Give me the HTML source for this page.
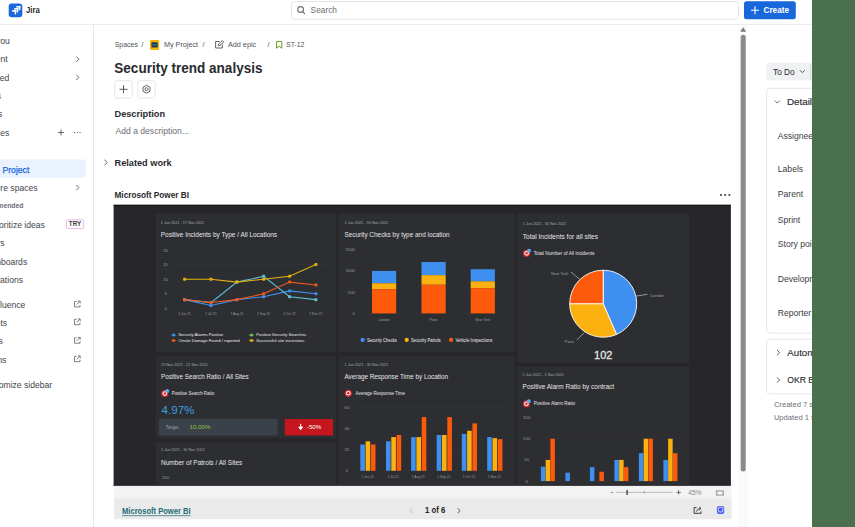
<!DOCTYPE html>
<html><head><meta charset="utf-8"><style>
html,body{margin:0;padding:0;background:#fff;width:855px;height:527px;overflow:hidden}
svg{display:block;font-family:"Liberation Sans", sans-serif}
</style></head><body>
<svg width="855" height="527" viewBox="0 0 855 527">
<rect x="0" y="24" width="812" height="1" fill="#ebecee"/>
<rect x="8.7" y="3.5" width="13.6" height="13.8" fill="#1868db" rx="3"/>
<g fill="none" stroke="#fff" stroke-width="1.5" stroke-linejoin="miter" stroke-linecap="butt"><path d="M16.2 6.9 L19.9 6.5 L19.5 10.2"/><path d="M14.1 9.0 L17.8 8.6 L17.4 12.3"/><path d="M12.0 11.1 L15.7 10.7 L15.3 14.4"/></g>
<text x="26" y="13.3" font-size="9" fill="#292a2e" font-weight="700" textLength="13.8" lengthAdjust="spacingAndGlyphs">Jira</text>
<rect x="291.5" y="1.5" width="447" height="17.8" fill="#ffffff" rx="3" stroke="#e2e4e8" stroke-width="1"/>
<circle cx="300.6" cy="9.5" r="2.9" fill="none" stroke="#6b6e76" stroke-width="1.1"/>
<path d="M302.7 11.6 L304.7 13.6" stroke="#6b6e76" stroke-width="1.1" stroke-linecap="round"/>
<text x="310.6" y="13.2" font-size="8.2" fill="#6b6e76" textLength="26.4" lengthAdjust="spacingAndGlyphs">Search</text>
<rect x="744" y="1.2" width="51.8" height="18.1" fill="#1868db" rx="2.5"/>
<path d="M755 6.2 V14.2 M751 10.2 H759" stroke="#fff" stroke-width="1.1"/>
<text x="763.5" y="13.4" font-size="8.5" fill="#ffffff" font-weight="700" textLength="25.5" lengthAdjust="spacingAndGlyphs">Create</text>
<rect x="812" y="0" width="43" height="527" fill="#4a704d"/>
<rect x="93" y="25" width="1" height="502" fill="#e6e7ea"/>
<text x="9.8" y="44.1" font-size="8.6" fill="#44464c" text-anchor="end">For you</text>
<text x="7.7" y="62.3" font-size="8.6" fill="#44464c" text-anchor="end">Recent</text>
<text x="9.4" y="80.5" font-size="8.6" fill="#44464c" text-anchor="end">Starred</text>
<text x="1.0" y="98.7" font-size="8.6" fill="#44464c" text-anchor="end">Apps</text>
<text x="2.3" y="116.9" font-size="8.6" fill="#44464c" text-anchor="end">Plans</text>
<text x="9.4" y="135.6" font-size="8.6" fill="#44464c" text-anchor="end">Spaces</text>
<path d="M76.3 56.6 L78.9 59.2 L76.3 61.800000000000004" fill="none" stroke="#505258" stroke-width="0.9"/>
<path d="M76.3 74.80000000000001 L78.9 77.4 L76.3 80.0" fill="none" stroke="#505258" stroke-width="0.9"/>
<path d="M76.3 185.0 L78.9 187.6 L76.3 190.2" fill="none" stroke="#505258" stroke-width="0.9"/>
<path d="M61 129.6 V135.4 M58.1 132.5 H63.9" stroke="#505258" stroke-width="0.9"/>
<circle cx="74.6" cy="132.6" r="0.6" fill="#505258"/>
<circle cx="77.3" cy="132.6" r="0.6" fill="#505258"/>
<circle cx="80" cy="132.6" r="0.6" fill="#505258"/>
<rect x="-4" y="159.6" width="90" height="18.2" fill="#e9f2fe" rx="3"/>
<text x="2.5" y="172.5" font-size="8.6" fill="#1868db" textLength="26.8" lengthAdjust="spacingAndGlyphs" stroke="#1868db" stroke-width="0.25">Project</text>
<text x="37.6" y="190.7" font-size="8.6" fill="#44464c" text-anchor="end">More spaces</text>
<text x="23.4" y="207.8" font-size="6.8" fill="#6b6e76" font-weight="700" text-anchor="end">Recommended</text>
<text x="44.9" y="227.5" font-size="8.6" fill="#44464c" text-anchor="end">Prioritize ideas</text>
<rect x="66.3" y="219.8" width="17.4" height="8.8" fill="#ffffff" rx="1.5" stroke="#e8a4dc" stroke-width="0.8"/>
<text x="75" y="226.3" font-size="6.3" fill="#3b3d42" font-weight="700" text-anchor="middle">TRY</text>
<text x="4.6" y="246.1" font-size="8.6" fill="#44464c" text-anchor="end">Filters</text>
<text x="27.2" y="264.5" font-size="8.6" fill="#44464c" text-anchor="end">Dashboards</text>
<text x="23" y="282.6" font-size="8.6" fill="#44464c" text-anchor="end">Operations</text>
<text x="25.4" y="308.0" font-size="8.6" fill="#44464c" text-anchor="end">Confluence</text>
<g fill="none" stroke="#5d6068" stroke-width="0.8"><path d="M76.6 301.5 H74.5 V306.9 H80 V304.9"/><path d="M76.6 304.59999999999997 L79.8 301.4 M77.8 301.09999999999997 H80.2 V303.5"/></g>
<text x="7.1" y="325.8" font-size="8.6" fill="#44464c" text-anchor="end">Assets</text>
<g fill="none" stroke="#5d6068" stroke-width="0.8"><path d="M76.6 319.3 H74.5 V324.7 H80 V322.7"/><path d="M76.6 322.4 L79.8 319.2 M77.8 318.9 H80.2 V321.3"/></g>
<text x="2.8" y="344.3" font-size="8.6" fill="#44464c" text-anchor="end">Goals</text>
<g fill="none" stroke="#5d6068" stroke-width="0.8"><path d="M76.6 337.8 H74.5 V343.2 H80 V341.2"/><path d="M76.6 340.9 L79.8 337.7 M77.8 337.4 H80.2 V339.8"/></g>
<text x="6.4" y="362.8" font-size="8.6" fill="#44464c" text-anchor="end">Teams</text>
<g fill="none" stroke="#5d6068" stroke-width="0.8"><path d="M76.6 356.3 H74.5 V361.7 H80 V359.7"/><path d="M76.6 359.4 L79.8 356.2 M77.8 355.9 H80.2 V358.3"/></g>
<text x="52.2" y="388.1" font-size="8.6" fill="#44464c" text-anchor="end">Customize sidebar</text>
<text x="114.7" y="47.3" font-size="7" fill="#505258" textLength="23.3" lengthAdjust="spacingAndGlyphs">Spaces</text>
<text x="141.6" y="47.3" font-size="7" fill="#505258">/</text>
<rect x="150" y="39.9" width="9.1" height="10" fill="#f5b400" rx="1"/>
<rect x="151.4" y="42.2" width="6.3" height="5.4" fill="#1d3a5c" rx="0.8"/>
<rect x="152.2" y="44.6" width="4.7" height="0.7" fill="#5a8fd0"/>
<text x="164" y="47.3" font-size="7" fill="#505258" textLength="34" lengthAdjust="spacingAndGlyphs">My Project</text>
<text x="202.4" y="47.3" font-size="7" fill="#505258">/</text>
<g fill="none" stroke="#505258" stroke-width="0.9"><path d="M219.5 41.5 H215.6 V48 H222.3 V44.5"/><path d="M218.3 45.6 L218.6 44 L222.3 40.6 L223.7 42 L220 45.4 Z"/></g>
<text x="227.9" y="47.3" font-size="7" fill="#505258" textLength="28.3" lengthAdjust="spacingAndGlyphs">Add epic</text>
<text x="267.4" y="47.3" font-size="7" fill="#505258">/</text>
<path d="M276.6 41.4 H281.8 V48.3 L279.2 46 L276.6 48.3 Z" fill="none" stroke="#6a9a23" stroke-width="1"/>
<text x="286.3" y="47.3" font-size="7" fill="#505258" textLength="18.1" lengthAdjust="spacingAndGlyphs">ST-12</text>
<text x="114.3" y="72.5" font-size="14" fill="#292a2e" font-weight="700" textLength="148.2" lengthAdjust="spacingAndGlyphs">Security trend analysis</text>
<rect x="114.8" y="80.6" width="17.4" height="17.4" fill="#ffffff" rx="2" stroke="#dfe1e5" stroke-width="0.8"/>
<path d="M123.5 85.3 V93.3 M119.5 89.3 H127.5" stroke="#44464c" stroke-width="0.9"/>
<rect x="137.8" y="80.6" width="17.4" height="17.4" fill="#ffffff" rx="2" stroke="#dfe1e5" stroke-width="0.8"/>
<g fill="none" stroke="#505258" stroke-width="0.9"><path d="M146.5 85.2 L150 87.2 V91.2 L146.5 93.2 L143 91.2 V87.2 Z"/><circle cx="146.5" cy="89.2" r="1.5"/></g>
<text x="114.5" y="117" font-size="9.6" fill="#292a2e" font-weight="700" textLength="50.6" lengthAdjust="spacingAndGlyphs">Description</text>
<text x="115.5" y="133.8" font-size="8.6" fill="#6b6e76" textLength="73.5" lengthAdjust="spacingAndGlyphs">Add a description...</text>
<path d="M104.3 159.6 L107.2 162.5 L104.3 165.4" fill="none" stroke="#505258" stroke-width="0.9"/>
<text x="114.5" y="166.1" font-size="9.6" fill="#292a2e" font-weight="700" textLength="57.2" lengthAdjust="spacingAndGlyphs">Related work</text>
<text x="114.5" y="198.2" font-size="8.8" fill="#292a2e" font-weight="700" textLength="74.5" lengthAdjust="spacingAndGlyphs">Microsoft Power BI</text>
<rect x="720.1" y="194.1" width="1.8" height="1.8" fill="#44464c"/>
<rect x="724.3000000000001" y="194.1" width="1.8" height="1.8" fill="#44464c"/>
<rect x="728.5" y="194.1" width="1.8" height="1.8" fill="#44464c"/>
<rect x="738.5" y="25" width="9" height="502" fill="#fafafa"/>
<path d="M740.2 31.8 L743.1 27.2 L746.1 31.8 Z" fill="#7a7a7a"/>
<rect x="740.7" y="34.8" width="5" height="436.6" fill="#8a8a8a" rx="2.5"/>
<rect x="766.1" y="62.7" width="60" height="17.9" fill="#f0f1f2" rx="2.5"/>
<text x="773" y="74.6" font-size="8.3" fill="#292a2e">To Do</text>
<path d="M799.9 70.2 L802.3 72.6 L804.7 70.2" fill="none" stroke="#44464c" stroke-width="0.9"/>
<path d="M810.5 64 V80" stroke="#b8b9bd" stroke-width="0.8" stroke-dasharray="1 1"/>
<rect x="766.6" y="88.3" width="70" height="244.9" rx="4" fill="none" stroke="#e6e7ea" stroke-width="1"/>
<path d="M774.8 100.6 L777.3 103.1 L779.8 100.6" fill="none" stroke="#505258" stroke-width="0.9"/>
<text x="787" y="105.2" font-size="9.8" fill="#292a2e" stroke="#292a2e" stroke-width="0.15">Details</text>
<text x="777.8" y="139.4" font-size="8.6" fill="#3b3d42">Assignee</text>
<text x="777.8" y="171.7" font-size="8.6" fill="#3b3d42">Labels</text>
<text x="777.8" y="196.9" font-size="8.6" fill="#3b3d42">Parent</text>
<text x="777.8" y="222.6" font-size="8.6" fill="#3b3d42">Sprint</text>
<text x="777.8" y="247.4" font-size="8.6" fill="#3b3d42">Story points</text>
<text x="777.8" y="281.9" font-size="8.6" fill="#3b3d42">Development</text>
<text x="777.8" y="316.1" font-size="8.6" fill="#3b3d42">Reporter</text>
<rect x="766.6" y="339.2" width="70" height="54.6" rx="4" fill="none" stroke="#e6e7ea" stroke-width="1"/>
<path d="M777 350.0 L779.6 352.6 L777 355.20000000000005" fill="none" stroke="#505258" stroke-width="0.9"/>
<text x="787.3" y="356.0" font-size="9.7" fill="#292a2e" stroke="#292a2e" stroke-width="0.12">Automation</text>
<path d="M777 377.4 L779.6 380 L777 382.6" fill="none" stroke="#505258" stroke-width="0.9"/>
<text x="787.3" y="383.4" font-size="8.6" fill="#292a2e" stroke="#292a2e" stroke-width="0.12">OKR Board</text>
<text x="773.9" y="407.4" font-size="7.6" fill="#6b6e76">Created 7 seconds ago</text>
<text x="773.9" y="419.9" font-size="7.6" fill="#6b6e76">Updated 1 second ago</text>
<rect x="812" y="0" width="43" height="527" fill="#4a704d"/>
<rect x="113.6" y="204.8" width="617.3" height="281" fill="#27262b"/>
<rect x="113.6" y="204.8" width="617.3" height="0.9" fill="#111113"/>
<rect x="156" y="214" width="180.10000000000002" height="138.3" fill="#2d2e32"/>
<rect x="338.5" y="214" width="176.0" height="138.3" fill="#2d2e32"/>
<rect x="517" y="214" width="172" height="148.8" fill="#2d2e32"/>
<rect x="155.6" y="356" width="180.50000000000003" height="82" fill="#2d2e32"/>
<rect x="339" y="355.6" width="175.5" height="130.2" fill="#2d2e32"/>
<rect x="517" y="366.1" width="172" height="119.69999999999999" fill="#2d2e32"/>
<rect x="155.8" y="442" width="180.3" height="43.80000000000001" fill="#2d2e32"/>
<text x="160.8" y="223.5" font-size="4.3" fill="#a5abb3" textLength="43.2" lengthAdjust="spacingAndGlyphs">1 Jun 2021 - 17 Nov 2021</text>
<text x="160.8" y="237.05" font-size="7" fill="#e6e6e6" textLength="116.3" lengthAdjust="spacingAndGlyphs">Positive Incidents by Type / All Locations</text>
<text x="165.6" y="309.9" font-size="4.3" fill="#9c9fa4" text-anchor="middle">0</text>
<rect x="172" y="308.15" width="158" height="0.5" fill="#36373b"/>
<text x="165.6" y="295.3" font-size="4.3" fill="#9c9fa4" text-anchor="middle">5</text>
<rect x="172" y="293.54999999999995" width="158" height="0.5" fill="#36373b"/>
<text x="165.6" y="280.7" font-size="4.3" fill="#9c9fa4" text-anchor="middle">10</text>
<rect x="172" y="278.95" width="158" height="0.5" fill="#36373b"/>
<text x="165.6" y="266.11" font-size="4.3" fill="#9c9fa4" text-anchor="middle">15</text>
<rect x="172" y="264.35" width="158" height="0.5" fill="#36373b"/>
<text x="165.6" y="251.5" font-size="4.3" fill="#9c9fa4" text-anchor="middle">20</text>
<rect x="172" y="249.75" width="158" height="0.5" fill="#36373b"/>
<text x="184.6" y="315.13" font-size="4.1" fill="#9c9fa4" text-anchor="middle" textLength="12.7" lengthAdjust="spacingAndGlyphs">1 Jun 21</text>
<text x="211" y="315.13" font-size="4.1" fill="#9c9fa4" text-anchor="middle" textLength="11.6" lengthAdjust="spacingAndGlyphs">1 Jul 21</text>
<text x="236.9" y="315.13" font-size="4.1" fill="#9c9fa4" text-anchor="middle" textLength="13.0" lengthAdjust="spacingAndGlyphs">1 Aug 21</text>
<text x="263.6" y="315.13" font-size="4.1" fill="#9c9fa4" text-anchor="middle" textLength="13.2" lengthAdjust="spacingAndGlyphs">1 Sep 21</text>
<text x="289.6" y="315.13" font-size="4.1" fill="#9c9fa4" text-anchor="middle" textLength="12.5" lengthAdjust="spacingAndGlyphs">1 Oct 21</text>
<text x="315.9" y="315.13" font-size="4.1" fill="#9c9fa4" text-anchor="middle" textLength="13.2" lengthAdjust="spacingAndGlyphs">1 Nov 21</text>
<polyline points="184.6,299.64 211,305.48 236.9,299.64 263.6,296.72 289.6,290.88 315.9,293.80" fill="none" stroke="#3f8ff0" stroke-width="1.1"/>
<rect x="183.1" y="298.14" width="3" height="3" fill="#3f8ff0" rx="0.8"/>
<rect x="209.5" y="303.98" width="3" height="3" fill="#3f8ff0" rx="0.8"/>
<rect x="235.4" y="298.14" width="3" height="3" fill="#3f8ff0" rx="0.8"/>
<rect x="262.1" y="295.22" width="3" height="3" fill="#3f8ff0" rx="0.8"/>
<rect x="288.1" y="289.38" width="3" height="3" fill="#3f8ff0" rx="0.8"/>
<rect x="314.4" y="292.3" width="3" height="3" fill="#3f8ff0" rx="0.8"/>
<polyline points="184.6,299.64 211,302.56 236.9,282.12 263.6,276.28 289.6,296.72 315.9,299.64" fill="none" stroke="#5fc0d8" stroke-width="1.1"/>
<rect x="183.1" y="298.14" width="3" height="3" fill="#5fc0d8" rx="0.8"/>
<rect x="209.5" y="301.06" width="3" height="3" fill="#5fc0d8" rx="0.8"/>
<rect x="235.4" y="280.62" width="3" height="3" fill="#5fc0d8" rx="0.8"/>
<rect x="262.1" y="274.78" width="3" height="3" fill="#5fc0d8" rx="0.8"/>
<rect x="288.1" y="295.22" width="3" height="3" fill="#5fc0d8" rx="0.8"/>
<rect x="314.4" y="298.14" width="3" height="3" fill="#5fc0d8" rx="0.8"/>
<polyline points="184.6,299.64 211,302.56 236.9,299.64 263.6,293.80 289.6,282.12 315.9,285.04" fill="none" stroke="#f0581c" stroke-width="1.1"/>
<rect x="183.1" y="298.14" width="3" height="3" fill="#f0581c" rx="0.8"/>
<rect x="209.5" y="301.06" width="3" height="3" fill="#f0581c" rx="0.8"/>
<rect x="235.4" y="298.14" width="3" height="3" fill="#f0581c" rx="0.8"/>
<rect x="262.1" y="292.3" width="3" height="3" fill="#f0581c" rx="0.8"/>
<rect x="288.1" y="280.62" width="3" height="3" fill="#f0581c" rx="0.8"/>
<rect x="314.4" y="283.54" width="3" height="3" fill="#f0581c" rx="0.8"/>
<polyline points="184.6,279.20 211,279.20 236.9,282.12 263.6,279.20 289.6,276.28 315.9,264.60" fill="none" stroke="#e3b00e" stroke-width="1.1"/>
<rect x="183.1" y="277.7" width="3" height="3" fill="#e3b00e" rx="0.8"/>
<rect x="209.5" y="277.7" width="3" height="3" fill="#e3b00e" rx="0.8"/>
<rect x="235.4" y="280.62" width="3" height="3" fill="#e3b00e" rx="0.8"/>
<rect x="262.1" y="277.7" width="3" height="3" fill="#e3b00e" rx="0.8"/>
<rect x="288.1" y="274.78" width="3" height="3" fill="#e3b00e" rx="0.8"/>
<rect x="314.4" y="263.1" width="3" height="3" fill="#e3b00e" rx="0.8"/>
<circle cx="173.6" cy="335" r="1.5" fill="#3f8ff0"/>
<path d="M171.1 335 H176.1" stroke="#3f8ff0" stroke-width="0.8"/>
<text x="178.4" y="336.47" font-size="4.2" fill="#eeeeee">Security Alarms Positive</text>
<circle cx="251.5" cy="335" r="1.5" fill="#6cc04a"/>
<path d="M249.0 335 H254.0" stroke="#6cc04a" stroke-width="0.8"/>
<text x="256.3" y="336.47" font-size="4.2" fill="#eeeeee">Positive Security Searches</text>
<circle cx="173.6" cy="340.4" r="1.5" fill="#f0581c"/>
<path d="M171.1 340.4 H176.1" stroke="#f0581c" stroke-width="0.8"/>
<text x="178.4" y="341.87" font-size="4.2" fill="#eeeeee">Onsite Damage Found / reported</text>
<circle cx="251.5" cy="340.4" r="1.5" fill="#e3b00e"/>
<path d="M249.0 340.4 H254.0" stroke="#e3b00e" stroke-width="0.8"/>
<text x="256.3" y="341.87" font-size="4.2" fill="#eeeeee">Successful site incursions</text>
<text x="344.4" y="223.6" font-size="4.3" fill="#a5abb3" textLength="43.8" lengthAdjust="spacingAndGlyphs">1 Jun 2021 - 30 Nov 2021</text>
<text x="344.4" y="237.05" font-size="7" fill="#e6e6e6" textLength="105.3" lengthAdjust="spacingAndGlyphs">Security Checks by type and location</text>
<text x="355" y="314.9" font-size="4.3" fill="#9c9fa4" text-anchor="end">0</text>
<rect x="362" y="313.15" width="144" height="0.5" fill="#36373b"/>
<text x="355" y="293.67" font-size="4.3" fill="#9c9fa4" text-anchor="end">500</text>
<rect x="362" y="291.91666666666663" width="144" height="0.5" fill="#36373b"/>
<text x="355" y="272.44" font-size="4.3" fill="#9c9fa4" text-anchor="end">1000</text>
<rect x="362" y="270.68333333333334" width="144" height="0.5" fill="#36373b"/>
<text x="355" y="251.2" font-size="4.3" fill="#9c9fa4" text-anchor="end">1500</text>
<rect x="362" y="249.45" width="144" height="0.5" fill="#36373b"/>
<rect x="372" y="270.93333333333334" width="24.2" height="12.315333333333285" fill="#3f8ff0"/>
<rect x="372" y="283.2486666666666" width="24.2" height="5.945333333333338" fill="#fbb10f"/>
<rect x="372" y="289.19399999999996" width="24.2" height="24.206000000000017" fill="#fd5a0c"/>
<text x="384.1" y="320.83" font-size="4.1" fill="#9c9fa4" text-anchor="middle" textLength="11.8" lengthAdjust="spacingAndGlyphs">London</text>
<rect x="421.5" y="262.01533333333333" width="24.2" height="13.164666666666676" fill="#3f8ff0"/>
<rect x="421.5" y="275.18" width="24.2" height="9.55499999999995" fill="#fbb10f"/>
<rect x="421.5" y="284.73499999999996" width="24.2" height="28.66500000000002" fill="#fd5a0c"/>
<text x="433.6" y="320.83" font-size="4.1" fill="#9c9fa4" text-anchor="middle" textLength="8.1" lengthAdjust="spacingAndGlyphs">Paris</text>
<rect x="470.7" y="269.23466666666667" width="24.2" height="12.103000000000009" fill="#3f8ff0"/>
<rect x="470.7" y="281.3376666666667" width="24.2" height="6.794666666666615" fill="#fbb10f"/>
<rect x="470.7" y="288.1323333333333" width="24.2" height="25.267666666666685" fill="#fd5a0c"/>
<text x="482.8" y="320.83" font-size="4.1" fill="#9c9fa4" text-anchor="middle" textLength="15.0" lengthAdjust="spacingAndGlyphs">New York</text>
<circle cx="362.6" cy="339.9" r="2.1" fill="#3f8ff0"/>
<text x="366.90000000000003" y="341.51" font-size="4.6" fill="#eeeeee" textLength="30" lengthAdjust="spacingAndGlyphs">Security Checks</text>
<circle cx="406.7" cy="339.9" r="2.1" fill="#fbb10f"/>
<text x="411.0" y="341.51" font-size="4.6" fill="#eeeeee" textLength="29.7" lengthAdjust="spacingAndGlyphs">Security Patrols</text>
<circle cx="451.1" cy="339.9" r="2.1" fill="#fd5a0c"/>
<text x="455.40000000000003" y="341.51" font-size="4.6" fill="#eeeeee" textLength="37" lengthAdjust="spacingAndGlyphs">Vehicle Inspections</text>
<text x="522.8" y="225.31" font-size="4.3" fill="#a5abb3" textLength="43.4" lengthAdjust="spacingAndGlyphs">1 Jun 2021 - 30 Nov 2021</text>
<text x="522.8" y="238.75" font-size="7" fill="#e6e6e6" textLength="75.2" lengthAdjust="spacingAndGlyphs">Total Incidents for all sites</text>
<g><circle cx="526.5999999999999" cy="253.3" r="3.6" fill="#d8262c"/><circle cx="526.5999999999999" cy="253.3" r="2.3" fill="#fff"/><circle cx="526.5999999999999" cy="253.3" r="1.3" fill="#d8262c"/><circle cx="529.0" cy="250.8" r="2" fill="#5aa8ea"/></g>
<text x="533.7" y="254.61" font-size="4.6" fill="#e6e6e6" textLength="60.7" lengthAdjust="spacingAndGlyphs">Total Number of All incidents</text>
<path d="M603.2 303.7 L603.20 270.20 A33.5 33.5 0 0 1 616.50 334.44 Z" fill="#3f8ff0" stroke="#ffffff" stroke-width="0.9"/>
<path d="M603.2 303.7 L616.50 334.44 A33.5 33.5 0 0 1 569.70 303.70 Z" fill="#fbb10f" stroke="#ffffff" stroke-width="0.9"/>
<path d="M603.2 303.7 L569.70 303.70 A33.5 33.5 0 0 1 603.20 270.20 Z" fill="#fd5a0c" stroke="#ffffff" stroke-width="0.9"/>
<path d="M570.7 271.8 L579.8 279.4" stroke="#c4c4c4" stroke-width="0.7"/>
<path d="M636 296.1 L647.3 294.3" stroke="#c4c4c4" stroke-width="0.7"/>
<path d="M576.8 340.1 L584.4 332.5" stroke="#c4c4c4" stroke-width="0.7"/>
<text x="551" y="274.74" font-size="4.1" fill="#9c9fa4">New York</text>
<text x="650.6" y="296.63" font-size="4.1" fill="#9c9fa4">London</text>
<text x="564.7" y="343.13" font-size="4.1" fill="#9c9fa4">Paris</text>
<text x="603.2" y="358.55" font-size="11" fill="#e6e6e6" text-anchor="middle" stroke="#e6e6e6" stroke-width="0.3">102</text>
<text x="161" y="365.9" font-size="4.3" fill="#a5abb3" textLength="47" lengthAdjust="spacingAndGlyphs">15 Nov 2021 - 21 Nov 2021</text>
<text x="161" y="378.95" font-size="7" fill="#e6e6e6" textLength="87.7" lengthAdjust="spacingAndGlyphs">Positive Search Ratio / All Sites</text>
<g><circle cx="164.8" cy="393.5" r="3.6" fill="#d8262c"/><circle cx="164.8" cy="393.5" r="2.3" fill="#fff"/><circle cx="164.8" cy="393.5" r="1.3" fill="#d8262c"/><circle cx="167.2" cy="391.0" r="2" fill="#5aa8ea"/></g>
<text x="171.8" y="394.81" font-size="4.6" fill="#e6e6e6" textLength="42.4" lengthAdjust="spacingAndGlyphs">Positive Search Ratio</text>
<text x="161.6" y="413.9" font-size="10.6" fill="#3a9ee4" textLength="32.8" lengthAdjust="spacingAndGlyphs">4.97%</text>
<rect x="158.9" y="418.7" width="118.7" height="16.8" fill="#3b4149"/>
<text x="165.8" y="428.71" font-size="4.6" fill="#9aa0a8">Target</text>
<text x="189.5" y="429.06" font-size="5.6" fill="#8cc63f" textLength="21" lengthAdjust="spacingAndGlyphs">10.00%</text>
<rect x="284.8" y="419" width="48.3" height="16.5" fill="#c4161c"/>
<path d="M300.7 423.8 V427.6 M298.8 427 L300.7 429.8 L302.6 427 Z" fill="#fff" stroke="#fff" stroke-width="1"/>
<text x="306.8" y="429.23" font-size="5.8" fill="#ffffff" textLength="14.6" lengthAdjust="spacingAndGlyphs">-50%</text>
<text x="344.5" y="365.7" font-size="4.3" fill="#a5abb3" textLength="43.8" lengthAdjust="spacingAndGlyphs">1 Jun 2021 - 30 Nov 2021</text>
<text x="344.5" y="378.95" font-size="7" fill="#e6e6e6" textLength="103.5" lengthAdjust="spacingAndGlyphs">Average Response Time by Location</text>
<g><circle cx="348.3" cy="393.3" r="3.6" fill="#d8262c"/><circle cx="348.3" cy="393.3" r="2.3" fill="#fff"/><circle cx="348.3" cy="393.3" r="1.3" fill="#d8262c"/></g>
<text x="355.5" y="394.81" font-size="4.6" fill="#e6e6e6" textLength="49.5" lengthAdjust="spacingAndGlyphs">Average Response Time</text>
<text x="347" y="472.31" font-size="4.3" fill="#9c9fa4" text-anchor="middle">0</text>
<rect x="355" y="470.55" width="152" height="0.5" fill="#36373b"/>
<text x="347" y="451.24" font-size="4.3" fill="#9c9fa4" text-anchor="middle">20</text>
<rect x="355" y="449.48333333333335" width="152" height="0.5" fill="#36373b"/>
<text x="347" y="430.17" font-size="4.3" fill="#9c9fa4" text-anchor="middle">40</text>
<rect x="355" y="428.4166666666667" width="152" height="0.5" fill="#36373b"/>
<text x="347" y="409.11" font-size="4.3" fill="#9c9fa4" text-anchor="middle">60</text>
<rect x="355" y="407.35" width="152" height="0.5" fill="#36373b"/>
<rect x="360.3" y="444.47" width="4.6" height="26.33" fill="#3f8ff0"/>
<rect x="365.6" y="441.31" width="4.6" height="29.49" fill="#fbb10f"/>
<rect x="370.9" y="444.47" width="4.6" height="26.33" fill="#fd5a0c"/>
<rect x="386.0" y="441.31" width="4.6" height="29.49" fill="#3f8ff0"/>
<rect x="391.3" y="437.09" width="4.6" height="33.71" fill="#fbb10f"/>
<rect x="396.6" y="434.99" width="4.6" height="35.81" fill="#fd5a0c"/>
<rect x="411.1" y="437.09" width="4.6" height="33.71" fill="#3f8ff0"/>
<rect x="416.4" y="437.09" width="4.6" height="33.71" fill="#fbb10f"/>
<rect x="421.7" y="417.08" width="4.6" height="53.72" fill="#fd5a0c"/>
<rect x="436.7" y="434.99" width="4.6" height="35.81" fill="#3f8ff0"/>
<rect x="442.0" y="434.99" width="4.6" height="35.81" fill="#fbb10f"/>
<rect x="447.3" y="417.08" width="4.6" height="53.72" fill="#fd5a0c"/>
<rect x="461.8" y="433.93" width="4.6" height="36.87" fill="#3f8ff0"/>
<rect x="467.1" y="430.77" width="4.6" height="40.03" fill="#fbb10f"/>
<rect x="472.4" y="423.4" width="4.6" height="47.4" fill="#fd5a0c"/>
<rect x="487.2" y="437.09" width="4.6" height="33.71" fill="#3f8ff0"/>
<rect x="492.5" y="438.15" width="4.6" height="32.65" fill="#fbb10f"/>
<rect x="497.8" y="439.2" width="4.6" height="31.6" fill="#fd5a0c"/>
<text x="367.5" y="477.83" font-size="4.1" fill="#9c9fa4" text-anchor="middle" textLength="12.7" lengthAdjust="spacingAndGlyphs">1 Jun 21</text>
<text x="393.2" y="477.83" font-size="4.1" fill="#9c9fa4" text-anchor="middle" textLength="11.6" lengthAdjust="spacingAndGlyphs">1 Jul 21</text>
<text x="418.3" y="477.83" font-size="4.1" fill="#9c9fa4" text-anchor="middle" textLength="13.0" lengthAdjust="spacingAndGlyphs">1 Aug 21</text>
<text x="443.9" y="477.83" font-size="4.1" fill="#9c9fa4" text-anchor="middle" textLength="13.2" lengthAdjust="spacingAndGlyphs">1 Sep 21</text>
<text x="469" y="477.83" font-size="4.1" fill="#9c9fa4" text-anchor="middle" textLength="12.5" lengthAdjust="spacingAndGlyphs">1 Oct 21</text>
<text x="494.4" y="477.83" font-size="4.1" fill="#9c9fa4" text-anchor="middle" textLength="13.2" lengthAdjust="spacingAndGlyphs">1 Nov 21</text>
<text x="522.6" y="375.81" font-size="4.3" fill="#a5abb3" textLength="41.2" lengthAdjust="spacingAndGlyphs">1 Jun 2021 - 1 Nov 2021</text>
<text x="522.6" y="389.35" font-size="7" fill="#e6e6e6" textLength="91.5" lengthAdjust="spacingAndGlyphs">Positive Alarm Ratio by contract</text>
<g><circle cx="526.4" cy="403.8" r="3.6" fill="#d8262c"/><circle cx="526.4" cy="403.8" r="2.3" fill="#fff"/><circle cx="526.4" cy="403.8" r="1.3" fill="#d8262c"/><circle cx="528.8000000000001" cy="401.3" r="2" fill="#5aa8ea"/></g>
<text x="533.7" y="404.91" font-size="4.6" fill="#e6e6e6" textLength="41.4" lengthAdjust="spacingAndGlyphs">Positive Alarm Ratio</text>
<text x="526.7" y="482.61" font-size="4.3" fill="#9c9fa4" text-anchor="middle">0</text>
<rect x="535" y="480.85" width="150" height="0.5" fill="#36373b"/>
<text x="526.7" y="461.44" font-size="4.3" fill="#9c9fa4" text-anchor="middle">50</text>
<rect x="535" y="459.68333333333334" width="150" height="0.5" fill="#36373b"/>
<text x="526.7" y="440.27" font-size="4.3" fill="#9c9fa4" text-anchor="middle">100</text>
<rect x="535" y="438.5166666666667" width="150" height="0.5" fill="#36373b"/>
<text x="526.7" y="419.11" font-size="4.3" fill="#9c9fa4" text-anchor="middle">150</text>
<rect x="535" y="417.35" width="150" height="0.5" fill="#36373b"/>
<rect x="540.9" y="466.71" width="4.5" height="14.39" fill="#3f8ff0"/>
<rect x="545.65" y="459.93" width="4.5" height="21.17" fill="#fbb10f"/>
<rect x="550.4" y="438.77" width="4.5" height="42.33" fill="#fd5a0c"/>
<rect x="565.4" y="472.63" width="4.5" height="8.47" fill="#3f8ff0"/>
<rect x="589.9" y="467.13" width="4.5" height="13.97" fill="#3f8ff0"/>
<rect x="599.4" y="471.79" width="4.5" height="9.31" fill="#fd5a0c"/>
<rect x="614.4" y="459.93" width="4.5" height="21.17" fill="#3f8ff0"/>
<rect x="619.15" y="459.93" width="4.5" height="21.17" fill="#fbb10f"/>
<rect x="623.9" y="467.13" width="4.5" height="13.97" fill="#fd5a0c"/>
<rect x="638.9" y="453.16" width="4.5" height="27.94" fill="#3f8ff0"/>
<rect x="643.65" y="438.77" width="4.5" height="42.33" fill="#fbb10f"/>
<rect x="648.4" y="438.77" width="4.5" height="42.33" fill="#fd5a0c"/>
<rect x="663.4" y="459.93" width="4.5" height="21.17" fill="#3f8ff0"/>
<rect x="668.15" y="438.77" width="4.5" height="42.33" fill="#fbb10f"/>
<rect x="672.9" y="453.16" width="4.5" height="27.94" fill="#fd5a0c"/>
<text x="161" y="451.4" font-size="4.3" fill="#a5abb3" textLength="43.8" lengthAdjust="spacingAndGlyphs">1 Jun 2021 - 30 Nov 2021</text>
<text x="161" y="464.95" font-size="7" fill="#e6e6e6" textLength="81.3" lengthAdjust="spacingAndGlyphs">Number of Patrols / All Sites</text>
<text x="165.5" y="478.9" font-size="4.3" fill="#9c9fa4" text-anchor="middle">150</text>
<rect x="175" y="477.15" width="155" height="0.5" fill="#36373b"/>
<rect x="113.6" y="485" width="617.3" height="0.9" fill="#111113"/>
<rect x="114" y="485.8" width="617.5" height="13.2" fill="#f3f3f3"/>
<rect x="114" y="498.6" width="617.5" height="0.6" fill="#dcdcdc"/>
<path d="M610.9 492.4 H612.9" stroke="#444" stroke-width="0.7"/>
<path d="M615.7 492.4 H672.7" stroke="#999" stroke-width="0.6"/>
<rect x="626.4" y="489.8" width="1.4" height="5.2" fill="#444"/>
<rect x="643.9" y="490.9" width="0.6" height="3" fill="#888"/>
<path d="M676.4 492.4 H680.8 M678.6 490.2 V494.6" stroke="#444" stroke-width="0.7"/>
<text x="688.2" y="495.1" font-size="7" fill="#8a8a8a" textLength="13.3" lengthAdjust="spacingAndGlyphs">45%</text>
<rect x="715.9" y="490.2" width="8.1" height="5.6" fill="#a8a8a8" rx="0.6"/>
<rect x="717.3" y="491.4" width="5.3" height="3.2" fill="#f6f6f6" rx="1.4"/>
<rect x="114" y="499.2" width="617.5" height="20.3" fill="#eaeaea"/>
<text x="122" y="514.2" font-size="8.8" fill="#1e6b75" font-weight="700" textLength="68.6" lengthAdjust="spacingAndGlyphs">Microsoft Power BI</text>
<rect x="122" y="515.4" width="68.6" height="0.7" fill="#1e6b75"/>
<path d="M412.5 508.3 L410.4 510.7 L412.5 513.1" fill="none" stroke="#b5b5b5" stroke-width="0.8"/>
<text x="425.1" y="513.4" font-size="8.4" fill="#252525" font-weight="700" textLength="20.2" lengthAdjust="spacingAndGlyphs">1 of 6</text>
<path d="M457.8 508.3 L459.9 510.7 L457.8 513.1" fill="none" stroke="#333" stroke-width="0.8"/>
<g fill="none" stroke="#2a2a2a" stroke-width="0.9"><path d="M696.6 507.6 H694.1 V513.3 H701.1 V511.3"/><path d="M696.4 511.6 Q696.9 508.9 700.6 508.5 M699.2 507 L700.9 508.5 L699.3 510"/></g>
<rect x="716.9" y="505.9" width="7.3" height="8" rx="2.2" fill="#4a5cf0"/>
<rect x="718.3" y="507.2" width="4.6" height="4.8" rx="1.6" fill="none" stroke="#ffffff" stroke-width="0.8"/>
<path d="M719.2 511.2 L721.6 508.6" stroke="#4a5cf0" stroke-width="0.7"/>
<rect x="114" y="519.5" width="617.5" height="7.5" fill="#ffffff"/>
</svg>
</body></html>
